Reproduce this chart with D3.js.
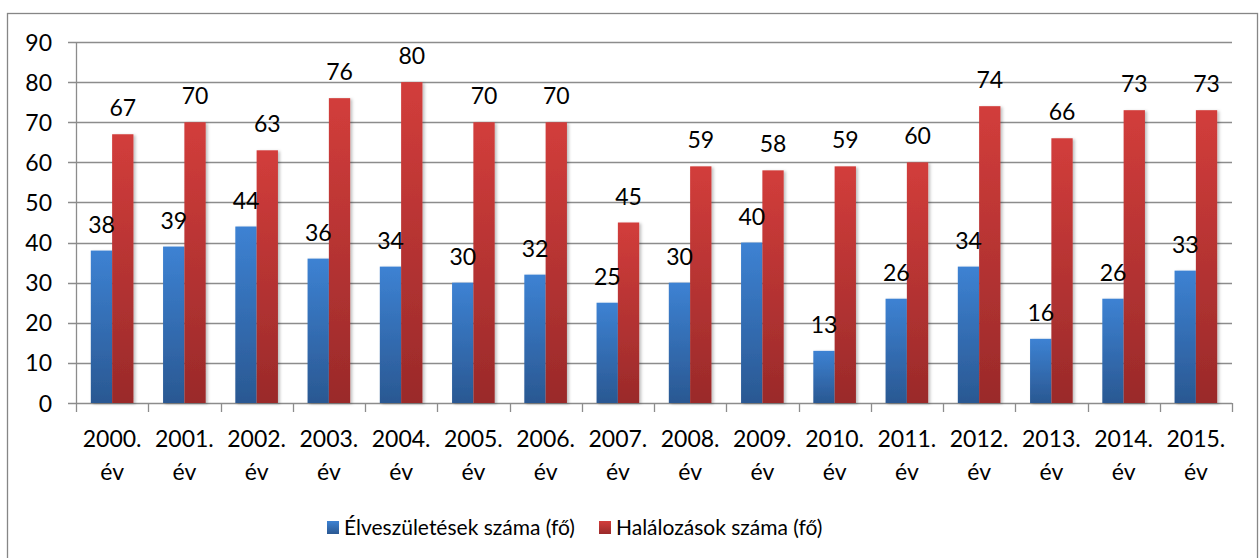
<!DOCTYPE html>
<html>
<head>
<meta charset="utf-8">
<script src="https://cdn.jsdelivr.net/npm/d3@7"></script>
<style>
  body { margin: 0; background: #fff; }
  text { font-family: Lato, "Open Sans", sans-serif; fill: #000; }
</style>
</head>
<body>
<script>
const width = 1260;
const height = 558;
const margin = { top: 42, right: 28, bottom: 155, left: 76 };

const years = ["2000.", "2001.", "2002.", "2003.", "2004.", "2005.", "2006.", "2007.",
  "2008.", "2009.", "2010.", "2011.", "2012.", "2013.", "2014.", "2015."];
const births = [38, 39, 44, 36, 34, 30, 32, 25, 30, 40, 13, 26, 34, 16, 26, 33];
const deaths = [67, 70, 63, 76, 80, 70, 70, 45, 59, 58, 59, 60, 74, 66, 73, 73];
const seriesNames = ["Élveszületések száma (fő)", "Halálozások száma (fő)"];
const yTicks = [0, 10, 20, 30, 40, 50, 60, 70, 80, 90];

const innerW = width - margin.left - margin.right;
const innerH = height - margin.top - margin.bottom;

const svg = d3.select("body")
  .append("svg")
  .attr("width", width)
  .attr("height", height);

const defs = svg.append("defs");
const grad = (id, top, bottom) => {
  const g = defs.append("linearGradient").attr("id", id)
    .attr("x1", 0).attr("y1", 0).attr("x2", 0).attr("y2", 1);
  g.append("stop").attr("offset", "0%").attr("stop-color", top);
  g.append("stop").attr("offset", "100%").attr("stop-color", bottom);
};
grad("gBlue", "#3d82d3", "#2a5892");
grad("gRed", "#d23d3b", "#9a2a2a");
const shadow = defs.append("filter").attr("id", "shadow")
  .attr("x", "-20%").attr("y", "-5%").attr("width", "150%").attr("height", "110%");
shadow.append("feDropShadow").attr("dx", 2).attr("dy", 1).attr("stdDeviation", 1.5)
  .attr("flood-color", "#000").attr("flood-opacity", 0.25);

// chart border
svg.append("rect")
  .attr("x", 7.5).attr("y", 13.5)
  .attr("width", 1250).attr("height", 560)
  .attr("fill", "none").attr("stroke", "#868686").attr("stroke-width", 1.3);

const g = svg.append("g").attr("transform", `translate(${margin.left}, ${margin.top})`);

const x0 = d3.scaleBand().domain(years).range([0, innerW]).paddingInner(0.41).paddingOuter(0.205);
const x1 = d3.scaleBand().domain([0, 1]).range([0, x0.bandwidth()]);
const y = d3.scaleLinear().domain([0, 90]).range([innerH, 0]);

// gridlines
g.append("g")
  .selectAll("line")
  .data(yTicks)
  .join("line")
  .attr("x1", -8).attr("x2", innerW)
  .attr("y1", d => Math.round(y(d)) + 0.5).attr("y2", d => Math.round(y(d)) + 0.5)
  .attr("stroke", "#8c8c8c").attr("stroke-width", 1.3);

// y axis
const yAxis = g.append("g")
  .call(d3.axisLeft(y).tickValues(yTicks).tickSize(0).tickPadding(24));
yAxis.select(".domain").attr("stroke", "#8c8c8c").attr("stroke-width", 1.3);
yAxis.selectAll("text").attr("font-size", "23px").attr("dy", "0.35em");

// x axis
const xBoundaries = d3.range(years.length + 1).map(i => i * innerW / years.length);
g.append("g")
  .selectAll("line")
  .data(xBoundaries)
  .join("line")
  .attr("x1", d => Math.round(d) + 0.5).attr("x2", d => Math.round(d) + 0.5)
  .attr("y1", innerH).attr("y2", innerH + 9)
  .attr("stroke", "#8c8c8c").attr("stroke-width", 1.3);

const xLabels = g.append("g")
  .selectAll("text")
  .data(years)
  .join("text")
  .attr("text-anchor", "middle")
  .attr("font-size", "23px")
  .attr("transform", d => `translate(${x0(d) + x0.bandwidth() / 2}, ${innerH + 44})`);
xLabels.append("tspan").attr("x", 0).attr("y", 0).text(d => d);
xLabels.append("tspan").attr("x", 0).attr("y", 33).text("év");

// bars
const rows = years.map((yr, i) => ({ year: yr, values: [births[i], deaths[i]] }));
const fills = ["url(#gBlue)", "url(#gRed)"];

const groups = g.append("g")
  .selectAll("g")
  .data(rows)
  .join("g")
  .attr("transform", d => `translate(${x0(d.year)}, 0)`);

groups.selectAll("rect")
  .data(d => d.values.map((v, k) => ({ k, v })))
  .join("rect")
  .attr("x", d => x1(d.k))
  .attr("y", d => y(d.v))
  .attr("width", x1.bandwidth())
  .attr("height", d => innerH - y(d.v))
  .attr("fill", d => fills[d.k])
  .attr("filter", "url(#shadow)");

groups.selectAll("text")
  .data(d => d.values.map((v, k) => ({ k, v })))
  .join("text")
  .attr("x", d => x1(d.k) + x1.bandwidth() / 2)
  .attr("y", d => y(d.v) - 18)
  .attr("text-anchor", "middle")
  .attr("font-size", "23px")
  .text(d => d.v);

// legend
const legendItems = [
  { name: seriesNames[0], fill: "url(#gBlue)", x: 327 },
  { name: seriesNames[1], fill: "url(#gRed)", x: 599 }
];
const legend = svg.append("g")
  .selectAll("g")
  .data(legendItems)
  .join("g")
  .attr("transform", d => `translate(${d.x}, 521)`);
legend.append("rect")
  .attr("width", 12).attr("height", 13)
  .attr("fill", d => d.fill);
legend.append("text")
  .attr("x", 17).attr("y", 14)
  .attr("font-size", "21px")
  .text(d => d.name);
</script>
</body>
</html>
